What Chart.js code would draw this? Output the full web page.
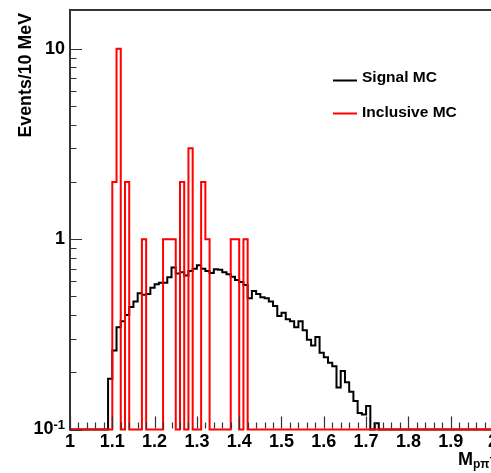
<!DOCTYPE html>
<html>
<head>
<meta charset="utf-8">
<script src="https://cdn.jsdelivr.net/npm/chart.js@4.4.1/dist/chart.umd.min.js"></script>
<style>
  html, body { margin: 0; padding: 0; background: #fff; overflow: hidden; }
  #wrap { width: 500px; height: 473px; position: relative; }
</style>
</head>
<body>
<div id="wrap"><canvas id="chart"></canvas></div>
<script>
// histogram settings (10 MeV bins)
const X_MIN = 1.0;
const X_MAX = 2.0;
const BIN_WIDTH = 0.01;
const Y_MIN = 0.1;
const Y_MAX = 16;

// Signal MC, bins starting at 1.09
const signalFirstBin = 1.09;
const signalMC = [
  0.185, 0.26, 0.345, 0.37, 0.40, 0.44, 0.47, 0.52, 0.51, 0.515,
  0.555, 0.58, 0.59, 0.59, 0.63, 0.71, 0.66, 0.67, 0.645, 0.68,
  0.70, 0.73, 0.70, 0.68, 0.665, 0.695, 0.69, 0.67, 0.655, 0.635,
  0.61, 0.595, 0.575, 0.49, 0.535, 0.515, 0.495, 0.49, 0.47, 0.445,
  0.395, 0.41, 0.38, 0.37, 0.345, 0.37, 0.332, 0.296, 0.276, 0.306,
  0.253, 0.24, 0.224, 0.215, 0.166, 0.203, 0.177, 0.158, 0.141, 0.122,
  0.12, 0.133, 0, 0.108
];

// Inclusive MC, only filled bins (low edges)
const inclusiveBins = [1.10, 1.11, 1.13, 1.17, 1.22, 1.23, 1.24, 1.26, 1.28, 1.31, 1.32, 1.38, 1.39, 1.41];
const inclusiveMC = [2, 10, 2, 1, 1, 1, 1, 2, 3, 2, 1, 1, 1, 1];

const yTickValues = [0.1, 1, 10];
const yTickLabels = [['10', '-1'], ['1', ''], ['10', '']];
const legendLabels = ['Signal MC', 'Inclusive MC'];

const NBINS = Math.round((X_MAX - X_MIN) / BIN_WIDTH);
const binIndex = x => Math.round((x - X_MIN) / BIN_WIDTH);

function fullHist(firstBin, values) {
  const h = new Array(NBINS).fill(0);
  values.forEach((v, i) => { h[binIndex(firstBin) + i] = v; });
  return h;
}
function sparseHist(bins, values) {
  const h = new Array(NBINS).fill(0);
  bins.forEach((b, i) => { h[binIndex(b)] = values[i]; });
  return h;
}
// step points at low edges, empty bins drawn on the axis floor
function stepPoints(h) {
  const pts = h.map((c, i) => ({ x: X_MIN + i * BIN_WIDTH, y: c > 0 ? c : Y_MIN }));
  pts.push({ x: X_MAX, y: pts[pts.length - 1].y });
  return pts;
}

const signalHist = fullHist(signalFirstBin, signalMC);
const inclusiveHist = sparseHist(inclusiveBins, inclusiveMC);

const FONT = '"Liberation Sans", Arial, Helvetica, sans-serif';

const rootStyle = {
  id: 'rootStyle',
  afterDatasetsDraw(chart) {
    const { ctx, chartArea: a } = chart;
    const xs = chart.scales.x;
    const ys = chart.scales.y;
    ctx.save();

    // ticks, drawn inside the frame
    ctx.strokeStyle = '#333';
    ctx.lineWidth = 1.2;
    ctx.beginPath();
    for (let e = -1; e <= 1; e++) {
      for (let m = 1; m <= 9; m++) {
        const v = m * Math.pow(10, e);
        if (v < Y_MIN || v > Y_MAX) continue;
        const py = Math.round(ys.getPixelForValue(v)) + 0.5;
        const len = m === 1 ? 12 : 6.5;
        ctx.moveTo(a.left, py);
        ctx.lineTo(a.left + len, py);
      }
    }
    for (let i = 0; i <= 50; i++) {
      const px = Math.round(xs.getPixelForValue(X_MIN + i * 0.02)) + 0.5;
      const len = i % 5 === 0 ? 12 : 6;
      ctx.moveTo(px, a.bottom - 1);
      ctx.lineTo(px, a.bottom - 1 - len);
    }
    ctx.stroke();

    // frame
    ctx.strokeStyle = '#333';
    ctx.lineWidth = 2;
    ctx.beginPath();
    ctx.moveTo(a.left, a.bottom + 1);
    ctx.lineTo(a.left, a.top);
    ctx.lineTo(a.right + 5, a.top);
    ctx.stroke();

    ctx.fillStyle = '#000';
    ctx.textBaseline = 'middle';
    // y labels
    yTickValues.forEach((v, i) => {
      const py = ys.getPixelForValue(v);
      const [base, sup] = yTickLabels[i];
      ctx.textAlign = 'right';
      if (sup) {
        ctx.font = 'bold 13px ' + FONT;
        const sw = ctx.measureText(sup).width;
        ctx.fillText(sup, 65, py - 4.5);
        ctx.font = 'bold 18px ' + FONT;
        ctx.fillText(base, 65 - sw, py);
      } else {
        ctx.font = 'bold 18px ' + FONT;
        ctx.fillText(base, 65, py);
      }
    });

    // y title
    ctx.save();
    ctx.translate(26, 13);
    ctx.rotate(-Math.PI / 2);
    ctx.textAlign = 'right';
    ctx.font = 'bold 17.8px ' + FONT;
    ctx.fillText('Events/10 MeV', 0, 0);
    ctx.restore();

    // x title
    ctx.textAlign = 'left';
    ctx.textBaseline = 'alphabetic';
    ctx.font = 'bold 18px ' + FONT;
    ctx.fillText('M', 458, 465);
    const mw = ctx.measureText('M').width;
    ctx.font = 'bold 12px ' + FONT;
    ctx.fillText('pπ', 458 + mw, 468);
    const sw = ctx.measureText('pπ').width;
    ctx.font = 'bold 10px ' + FONT;
    ctx.fillText('-', 458 + mw + sw, 460);

    // legend
    const colors = ['#000', '#ff0000'];
    const rows = [80.5, 113.5];
    legendLabels.forEach((lab, i) => {
      ctx.strokeStyle = colors[i];
      ctx.lineWidth = 2;
      ctx.beginPath();
      ctx.moveTo(333, rows[i]);
      ctx.lineTo(357, rows[i]);
      ctx.stroke();
      ctx.fillStyle = '#000';
      ctx.font = 'bold 15.5px ' + FONT;
      ctx.textBaseline = 'middle';
      ctx.fillText(lab, 362, rows[i] - 2.5 + i * 1.5);
    });
    ctx.restore();
  }
};

new Chart(document.getElementById('chart'), {
  type: 'line',
  data: {
    datasets: [
      {
        label: legendLabels[1],
        data: stepPoints(inclusiveHist),
        borderColor: '#ff0000',
        borderWidth: 2,
        stepped: true,
        pointRadius: 0,
        fill: false,
        order: 0,
        clip: 4
      },
      {
        label: legendLabels[0],
        data: stepPoints(signalHist),
        borderColor: '#000',
        borderWidth: 2,
        stepped: true,
        pointRadius: 0,
        fill: false,
        order: 1,
        clip: 4
      }
    ]
  },
  options: {
    responsive: true,
    maintainAspectRatio: false,
    animation: false,
    events: [],
    layout: { padding: { top: 10, right: 7, left: 0, bottom: 0 } },
    plugins: { legend: { display: false }, tooltip: { enabled: false } },
    scales: {
      x: {
        type: 'linear',
        min: X_MIN,
        max: X_MAX,
        grid: { display: false, drawTicks: false },
        border: { display: false },
        ticks: {
          stepSize: 0.1,
          padding: 2,
          maxRotation: 0,
          autoSkip: false,
          color: '#000',
          font: { family: FONT, size: 18, weight: 'bold' },
          callback: v => String(Number(v.toFixed(1)))
        },
        afterFit: s => { s.height = 43.5; }
      },
      y: {
        type: 'logarithmic',
        min: Y_MIN,
        max: Y_MAX,
        grid: { display: false, drawTicks: false },
        border: { display: false },
        ticks: { display: false },
        afterFit: s => { s.width = 70; }
      }
    }
  },
  plugins: [rootStyle]
});
</script>
</body>
</html>
